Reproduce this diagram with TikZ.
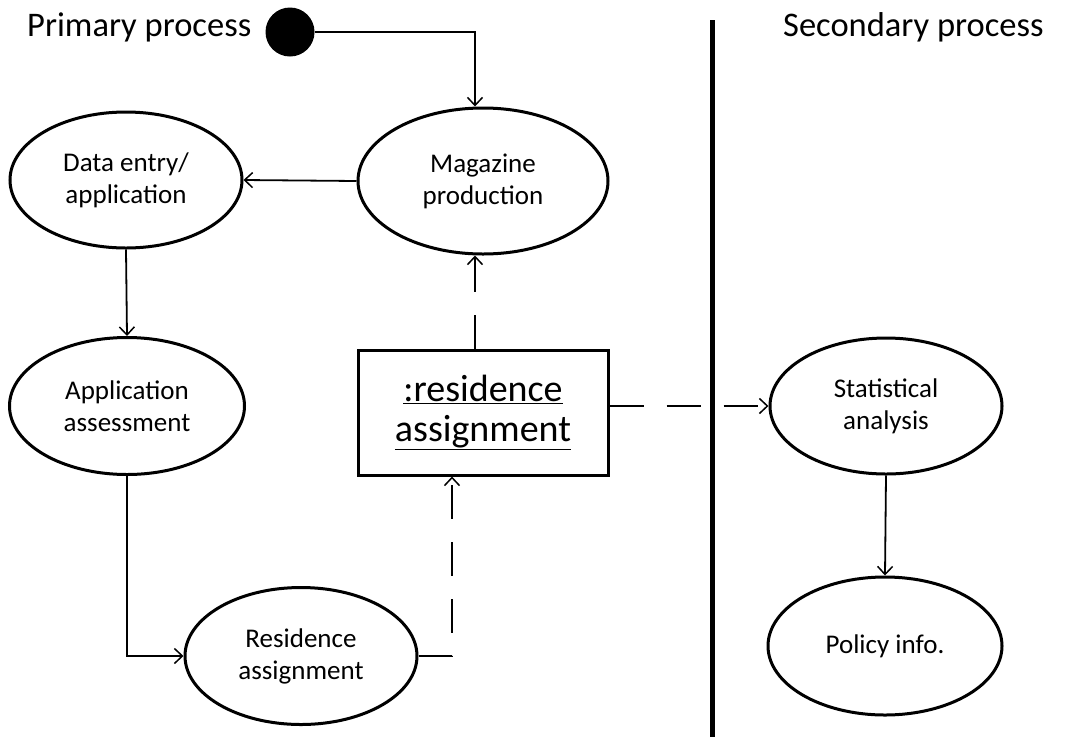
\documentclass[tikz,border=0pt]{standalone}
\usepackage{fontspec}
\setmainfont{Carlito}
\usetikzlibrary{shapes.geometric,arrows.meta,calc}
\tikzset{
  x=1pt, y=-1pt,
  activity/.style={ellipse, draw, line width=3pt, inner sep=0pt, align=center,
    font=\fontsize{27}{32}\selectfont},
  objbox/.style={rectangle, draw, line width=3pt, inner sep=0pt, align=center,
    minimum width=250pt, minimum height=125pt, font=\fontsize{38}{40}\selectfont},
  flow/.style={line width=1.8pt, -{Straight Barb[length=8pt,width=15pt,line width=1.5pt]}},
  objflow/.style={flow, dash pattern=on 34pt off 23pt},
  heading/.style={anchor=base west, inner sep=0pt, font=\fontsize{34.5}{40}\selectfont},
}
\begin{document}
\begin{tikzpicture}
\useasboundingbox (0,0) rectangle (1071,737);

% swimlane titles and separator
\node[heading] (primary) at (27,36) {Primary process};
\node[heading] (secondary) at (783,36) {Secondary process};
\coordinate (laneTop) at (712,20);
\coordinate (laneBot) at (712,737);
\draw[line width=5pt] (laneTop) -- (laneBot);

% initial state
\node[circle, fill=black, minimum size=49pt, inner sep=0pt] (start) at (290,32) {};

% activities
\node[activity, minimum width=250pt, minimum height=146pt] (mag) at (483,181) {Magazine\\production};
\node[activity, minimum width=232pt, minimum height=136pt] (data) at (126,180) {Data entry/\\application};
\node[activity, minimum width=235pt, minimum height=137pt] (appl) at (127,406) {Application\\assessment};
\node[activity, minimum width=232pt, minimum height=137pt] (res) at (301,656) {Residence\\assignment};
\node[activity, minimum width=232pt, minimum height=136pt] (stat) at (886,406) {Statistical\\analysis};
\node[activity, minimum width=234pt, minimum height=138pt] (pol) at (885,646) {Policy info.};

% object node
\node[objbox] (obj) at (483,412.5) {\underline{:residence}\\\underline{assignment}};

% control flow
\draw[flow] (start.east) -| ([xshift=-8pt]mag.north);
\draw[flow] (mag.west) -- (data.east);
\draw[flow] (data.south) -- (appl.north);
\draw[flow] (appl.south) |- (res.west);
\draw[flow] (stat.south) -- (pol.north);

% object flow
\draw[objflow] (res.east) -| ([xshift=-31pt]obj.south);
\draw[objflow] ([xshift=-8pt]obj.north) -- ([xshift=-8pt]mag.south);
\draw[objflow] (obj.east |- stat.west) -- (stat.west);
\end{tikzpicture}
\end{document}
